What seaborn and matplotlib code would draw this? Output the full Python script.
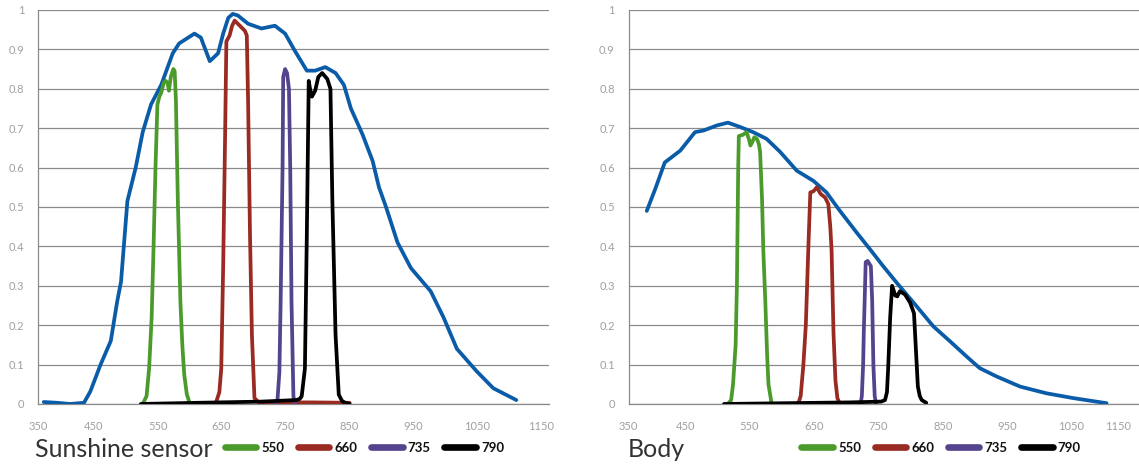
import matplotlib
matplotlib.use("Agg")
import matplotlib.pyplot as plt
import matplotlib.transforms as mtransforms
import seaborn as sns
from matplotlib.ticker import FuncFormatter, MultipleLocator

# ---------------- data ----------------
# Sunshine sensor
sun_x = [359, 380, 400, 422, 432, 448, 464, 474, 480, 490, 503, 514, 527, 543, 561, 571,
         595, 605, 619, 632, 640, 648, 655, 663, 679, 700, 721, 737, 752, 771, 784, 800,
         816, 829, 840, 858, 874, 884, 895, 913, 934, 965, 985, 1006, 1037, 1063, 1099]
sun_y = [0.005, 0.003, 0.0, 0.003, 0.032, 0.10, 0.16, 0.26, 0.31, 0.515, 0.60, 0.69, 0.76, 0.81, 0.89, 0.915,
         0.94, 0.93, 0.87, 0.89, 0.94, 0.98, 0.99, 0.986, 0.965, 0.953, 0.96, 0.94, 0.897, 0.846, 0.846, 0.855,
         0.84, 0.81, 0.75, 0.685, 0.617, 0.55, 0.50, 0.41, 0.345, 0.286, 0.22, 0.14, 0.083, 0.04, 0.01]

sun_550_x = [514, 520, 524, 528, 531, 534, 537, 540, 543, 547, 550, 553, 555, 558, 562, 564, 566, 569, 573, 576, 579, 583, 587]
sun_550_y = [0.0, 0.02, 0.09, 0.22, 0.40, 0.60, 0.76, 0.78, 0.79, 0.815, 0.82, 0.815, 0.795, 0.83, 0.85, 0.845, 0.77, 0.515, 0.26, 0.15, 0.075, 0.025, 0.005]

sun_660_x = [629, 634, 637, 640, 643, 645, 650, 654, 658, 663, 674, 677, 679, 682, 685, 689, 695, 720, 780, 838]
sun_660_y = [0.005, 0.03, 0.09, 0.35, 0.68, 0.92, 0.935, 0.96, 0.973, 0.965, 0.947, 0.935, 0.77, 0.43, 0.175, 0.015, 0.005, 0.004, 0.004, 0.003]

sun_735_x = [722, 725, 728, 730, 733, 734, 737, 740, 743, 745, 747, 750, 752]
sun_735_y = [0.0, 0.01, 0.08, 0.26, 0.60, 0.83, 0.85, 0.84, 0.80, 0.60, 0.26, 0.02, 0.0]

sun_790_x = [511, 600, 700, 755, 760, 763, 768, 771, 774, 776, 779, 784, 789, 795, 803, 808, 811, 816, 821, 826, 831, 838]
sun_790_y = [0.0, 0.003, 0.006, 0.01, 0.013, 0.02, 0.09, 0.43, 0.82, 0.80, 0.78, 0.795, 0.83, 0.84, 0.825, 0.80, 0.515, 0.175, 0.024, 0.008, 0.003, 0.0]

# Body
body_x = [378, 391, 406, 430, 453, 466, 487, 504, 523, 543, 564, 585, 611, 637, 657, 678, 704, 725,
          745, 766, 797, 823, 849, 875, 895, 921, 958, 999, 1040, 1092]
body_y = [0.49, 0.545, 0.613, 0.643, 0.69, 0.694, 0.707, 0.714, 0.703, 0.69, 0.673, 0.64, 0.592, 0.566, 0.537, 0.49, 0.435, 0.392,
          0.35, 0.308, 0.248, 0.197, 0.159, 0.12, 0.091, 0.07, 0.044, 0.027, 0.015, 0.002]

body_550_x = [504, 509, 512, 516, 518, 519, 520, 521, 527, 533, 537, 539, 542, 545, 549, 552, 554, 557, 559, 562, 565, 567, 572]
body_550_y = [0.0, 0.01, 0.05, 0.15, 0.30, 0.45, 0.60, 0.68, 0.683, 0.69, 0.67, 0.656, 0.665, 0.677, 0.673, 0.66, 0.64, 0.52, 0.39, 0.265, 0.12, 0.05, 0.0]

body_660_x = [613, 617, 621, 625, 627, 629, 632, 637, 642, 648, 655, 660, 663, 665, 668, 671, 674, 678]
body_660_y = [0.0, 0.02, 0.095, 0.2, 0.3, 0.40, 0.537, 0.54, 0.55, 0.533, 0.524, 0.507, 0.45, 0.39, 0.18, 0.06, 0.015, 0.0]

body_735_x = [710, 712, 714, 715, 717, 718, 721, 726, 728, 730, 732, 734]
body_735_y = [0.0, 0.02, 0.1, 0.18, 0.3, 0.36, 0.363, 0.35, 0.265, 0.095, 0.02, 0.0]

body_790_x = [498, 595, 693, 742, 748, 751, 753, 756, 759, 761, 764, 767, 771, 779, 787, 793, 796, 799, 802, 805, 812]
body_790_y = [0.0, 0.002, 0.004, 0.006, 0.01, 0.03, 0.095, 0.22, 0.30, 0.29, 0.275, 0.273, 0.286, 0.278, 0.257, 0.23, 0.137, 0.044, 0.02, 0.01, 0.003]

band_labels = ["550", "660", "735", "790"]
panel_titles = ["Sunshine sensor", "Body"]
x_ticks = [350, 450, 550, 650, 750, 850, 950, 1050, 1150]

# ---------------- style ----------------
sns.set_style("white")
plt.rcParams["font.family"] = ["Lato", "DejaVu Sans"]

BLUE = "#0b5ca8"
band_colors = ["#4b9b2c", "#9a2b22", "#54448e", "#000000"]
GRID = "#8a8a8a"
TICKC = "#a0a0a0"

fig = plt.figure(figsize=(11.39, 4.68), dpi=100)
ax_l = fig.add_axes([0.03336, 0.1368, 0.4485, 0.8419])
ax_r = fig.add_axes([0.5520, 0.1368, 0.4523, 0.8419])

panels = [
    (ax_l, sun_x, sun_y, [(sun_550_x, sun_550_y), (sun_660_x, sun_660_y), (sun_735_x, sun_735_y), (sun_790_x, sun_790_y)]),
    (ax_r, body_x, body_y, [(body_550_x, body_550_y), (body_660_x, body_660_y), (body_735_x, body_735_y), (body_790_x, body_790_y)]),
]

LW = 2.7
for i, (ax, bx, by, bands) in enumerate(panels):
    sns.lineplot(x=bx, y=by, ax=ax, color=BLUE, linewidth=LW, estimator=None, sort=False,
                 solid_joinstyle="round", solid_capstyle="round", zorder=3)
    for (xs, ys), c, lab in zip(bands, band_colors, band_labels):
        sns.lineplot(x=xs, y=ys, ax=ax, color=c, linewidth=LW, estimator=None, sort=False,
                     solid_joinstyle="round", solid_capstyle="round", zorder=4, label=lab)
    ax.set_xlim(350, 1150)
    ax.set_ylim(0, 1)
    ax.set_xticks(x_ticks)
    ax.yaxis.set_major_locator(MultipleLocator(0.1))
    ax.yaxis.set_major_formatter(FuncFormatter(lambda v, p: f"{round(v, 1):g}"))
    ax.grid(axis="y", color=GRID, linewidth=0.9)
    ax.grid(axis="x", visible=False)
    ax.set_axisbelow(True)
    for s in ["top", "right"]:
        ax.spines[s].set_visible(False)
    for s in ["left", "bottom"]:
        ax.spines[s].set_color(GRID)
        ax.spines[s].set_linewidth(0.9)
    ax.tick_params(axis="x", direction="out", length=5, width=0.9, color=GRID,
                   labelcolor=TICKC, labelsize=8, pad=7)
    ax.tick_params(axis="y", direction="out", length=4, width=0.9, color=GRID,
                   labelcolor=TICKC, labelsize=8, pad=6)
    ax.set_xlabel("")
    ax.set_ylabel("")
    leg = ax.legend(loc="upper left", bbox_to_anchor=(0.355 if i == 0 else 0.325, -0.082), ncol=4,
                    frameon=False, handlelength=2.4, handletextpad=0.4, columnspacing=1.0,
                    borderaxespad=0, prop={"weight": "bold", "size": 9.5})
    for t in leg.get_texts():
        t.set_color("#111111")
    for h in leg.get_lines():
        h.set_linewidth(4.8)
        h.set_solid_capstyle("round")

# tick-label horizontal nudges (pixels), as in the reference layout
for i, ax in enumerate([ax_l, ax_r]):
    ticks = ax.xaxis.get_major_ticks()
    for j, tk in enumerate(ticks):
        dx = 0 if j == 0 else -8
        if i == 1 and j == len(ticks) - 1:
            dx = -26
        off = mtransforms.ScaledTranslation(dx / 100.0, 0, fig.dpi_scale_trans)
        tk.label1.set_transform(tk.label1.get_transform() + off)

fig.text(0.0305, 0.014, panel_titles[0], fontsize=18, color="#333333", ha="left", va="bottom")
fig.text(0.551, 0.014, panel_titles[1], fontsize=18, color="#333333", ha="left", va="bottom")

fig.savefig("out.png", dpi=100)
